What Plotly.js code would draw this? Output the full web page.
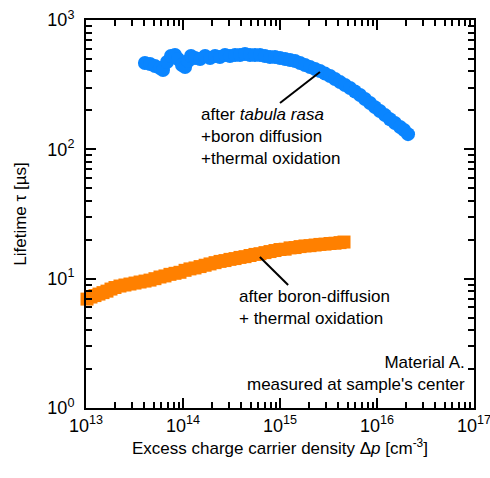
<!DOCTYPE html>
<html>
<head>
<meta charset="utf-8">
<script src="https://cdn.plot.ly/plotly-3.0.1.min.js"></script>
<style>
  html, body { margin: 0; padding: 0; background: #ffffff; }
  #chart { width: 490px; height: 478px; }
</style>
</head>
<body>
<div id="chart"></div>
<script>
// Injection-level dependent lifetime, Material A (sample center)

// After tabula rasa + boron diffusion + thermal oxidation
const dpTabula = [
  4.05e13, 4.57e13, 5.14e13, 5.79e13, 6.22e13, 6.84e13, 7.52e13, 8.27e13, 8.88e13, 9.77e13,
  1.05e14, 1.13e14, 1.21e14, 1.33e14, 1.50e14, 1.69e14, 1.90e14, 2.14e14, 2.40e14, 2.71e14,
  3.05e14, 3.44e14, 3.87e14, 4.36e14, 4.91e14, 5.52e14, 6.22e14, 7.00e14, 7.89e14, 8.88e14,
  1.00e15, 1.13e15, 1.27e15, 1.43e15, 1.61e15, 1.81e15, 2.04e15, 2.30e15, 2.58e15, 2.91e15,
  3.28e15, 3.69e15, 4.16e15, 4.68e15, 5.27e15, 5.93e15, 6.68e15, 7.52e15, 8.47e15, 9.53e15,
  1.07e16, 1.21e16, 1.36e16, 1.53e16, 1.73e16, 1.90e16, 2.09e16
];
const tauTabula = [
  465, 457, 441, 425, 410, 473, 527, 536, 499, 449,
  433, 482, 527, 508, 499, 527, 508, 527, 518, 536,
  527, 536, 536, 546, 536, 536, 536, 527, 518, 518,
  508, 499, 491, 482, 465, 449, 433, 418, 403, 385,
  369, 350, 331, 314, 298, 280, 263, 245, 228, 212,
  198, 184, 171, 160, 149, 141, 131
];

// After boron diffusion + thermal oxidation
const dpBoron = [
  1.024e13, 1.126e13, 1.238e13, 1.361e13, 1.497e13, 1.645e13, 1.81e13, 1.99e13, 2.24e13, 2.52e13,
  2.84e13, 3.20e13, 3.61e13, 4.06e13, 4.57e13, 5.14e13, 5.79e13, 6.52e13, 7.34e13, 8.27e13,
  9.31e13, 1.05e14, 1.18e14, 1.33e14, 1.50e14, 1.69e14, 1.90e14, 2.14e14, 2.41e14, 2.71e14,
  3.05e14, 3.44e14, 3.87e14, 4.36e14, 4.91e14, 5.52e14, 6.22e14, 7.00e14, 7.89e14, 8.88e14,
  1.00e15, 1.13e15, 1.27e15, 1.43e15, 1.61e15, 1.81e15, 2.04e15, 2.30e15, 2.58e15, 2.91e15,
  3.28e15, 3.69e15, 4.16e15, 4.57e15
];
const tauBoron = [
  6.95, 7.21, 7.40, 7.60, 7.80, 8.01, 8.31, 8.54, 8.77, 8.93,
  9.09, 9.25, 9.42, 9.58, 9.75, 10.0, 10.3, 10.5, 10.8, 11.0,
  11.2, 11.6, 11.9, 12.1, 12.4, 12.7, 13.0, 13.3, 13.6, 13.8,
  14.1, 14.3, 14.6, 14.8, 15.1, 15.4, 15.6, 15.9, 16.2, 16.5,
  16.8, 16.9, 17.3, 17.4, 17.7, 17.9, 18.0, 18.2, 18.4, 18.5,
  18.7, 18.8, 19.0, 19.2
];

// Axis decades and their labels
const xTickVals = [1e13, 1e14, 1e15, 1e16, 1e17];
const xTickText = ['10<sup>13</sup>', '10<sup>14</sup>', '10<sup>15</sup>', '10<sup>16</sup>', '10<sup>17</sup>'];
const yTickVals = [1, 10, 100, 1000];
const yTickText = ['10<sup>0</sup>', '10<sup>1</sup>', '10<sup>2</sup>', '10<sup>3</sup>'];

// Minor ticks at 2..9 within each decade
function minorTicks(decades) {
  const out = [];
  for (let i = 0; i < decades.length - 1; i++) {
    for (let m = 2; m <= 9; m++) out.push(decades[i] * m);
  }
  return out;
}

const FONT = 'Liberation Sans, Arial, sans-serif';

const traces = [
  {
    x: dpBoron, y: tauBoron, type: 'scatter', mode: 'markers',
    marker: { symbol: 'square', size: 13, color: '#ff8000', line: { width: 0 } },
    hoverinfo: 'skip', cliponaxis: false
  },
  {
    x: dpTabula, y: tauTabula, type: 'scatter', mode: 'markers',
    marker: { symbol: 'circle', size: 14, color: '#0a85ff', line: { width: 0 } },
    hoverinfo: 'skip'
  }
];

function axis(extra, decades) {
  return Object.assign({
    type: 'log',
    showgrid: false,
    zeroline: false,
    showline: true,
    linecolor: '#000000',
    linewidth: 2,
    mirror: 'allticks',
    ticks: 'inside',
    ticklen: 10,
    tickwidth: 2,
    tickcolor: '#000000',
    tickmode: 'array',
    ticklabeloverflow: 'allow',
    tickfont: { family: FONT, size: 18, color: '#000000' },
    minor: {
      tickmode: 'array', tickvals: minorTicks(decades),
      ticks: 'inside', ticklen: 6, tickwidth: 2, tickcolor: '#000000', showgrid: false
    }
  }, extra);
}

const layout = {
  width: 490,
  height: 478,
  margin: { l: 86, r: 16, t: 20, b: 70 },
  paper_bgcolor: '#ffffff',
  plot_bgcolor: '#ffffff',
  showlegend: false,
  font: { family: FONT, size: 17, color: '#000000' },
  xaxis: axis({
    range: [13, 17],
    tickvals: xTickVals,
    ticktext: xTickText,
    title: { text: 'Excess charge carrier density \u0394<i>p</i> [cm<sup>-3</sup>]', font: { family: FONT, size: 17 }, standoff: 8 }
  }, xTickVals),
  yaxis: axis({
    range: [0, 3],
    tickvals: yTickVals,
    ticktext: yTickText,
    ticklabelstandoff: 6,
    title: { text: 'Lifetime \u03c4 [\u00b5s]', font: { family: FONT, size: 17 }, standoff: 16 }
  }, yTickVals),
  shapes: [
    { type: 'line', xref: 'paper', yref: 'paper', x0: 0.500, y0: 0.786, x1: 0.603, y1: 0.866, line: { color: '#000000', width: 2 } },
    { type: 'line', xref: 'paper', yref: 'paper', x0: 0.448, y0: 0.389, x1: 0.521, y1: 0.317, line: { color: '#000000', width: 2 } }
  ],
  annotations: [
    {
      xref: 'paper', yref: 'paper', x: 0.291, y: 0.701, xanchor: 'left', yanchor: 'middle', align: 'left',
      showarrow: false, font: { family: FONT, size: 17 },
      text: 'after <i>tabula rasa</i><br>+boron diffusion<br>+thermal oxidation'
    },
    {
      xref: 'paper', yref: 'paper', x: 0.389, y: 0.258, xanchor: 'left', yanchor: 'middle', align: 'left',
      showarrow: false, font: { family: FONT, size: 17 },
      text: 'after boron-diffusion<br>+ thermal oxidation'
    },
    {
      xref: 'paper', yref: 'paper', x: 0.982, y: 0.090, xanchor: 'right', yanchor: 'middle', align: 'right',
      showarrow: false, font: { family: FONT, size: 17 },
      text: 'Material A.<br>measured at sample\'s center'
    }
  ]
};

Plotly.newPlot('chart', traces, layout, { displayModeBar: false, staticPlot: true });
</script>
</body>
</html>
